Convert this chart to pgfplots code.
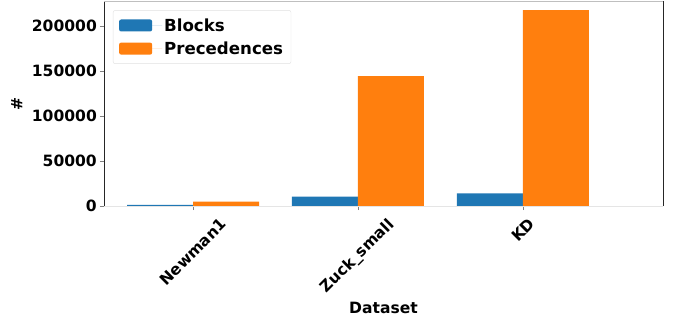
\documentclass[border=0pt]{standalone}
\usepackage{pgfplots}
\pgfplotsset{compat=1.18}
\usepackage{fontspec}
\setmainfont{DejaVu Sans}
\definecolor{mblue}{HTML}{1F77B4}
\definecolor{morange}{HTML}{FF7F0E}
\begin{document}
\begin{tikzpicture}[x=1bp,y=1bp]
\begin{axis}[
  scale only axis,
  width=559bp, height=205bp,
  ymin=0, ymax=228000,
  xmin=-0.54, xmax=2.85,
  xtick={0,1,2},
  xticklabels={\rotatebox{45}{Newman1},\rotatebox{45}{Zuck\_small},\rotatebox{45}{KD}},
  ytick={0,50000,100000,150000,200000},
  xtick pos=bottom, ytick pos=left,
  scaled y ticks=false,
  /pgf/number format/.cd, fixed, 1000 sep={}, assume math mode=true,
  /pgfplots/.cd,
  tick label style={font=\fontsize{15.6}{18}\selectfont\bfseries},
  x tick label style={anchor=north, inner sep=4bp, yshift=-3bp},
  y tick label style={inner sep=3bp},
  tick align=outside,
  tick style={gray, line width=0.6bp},
  major tick length=4bp,
  xlabel={Dataset}, ylabel={\#},
  label style={font=\fontsize{15.6}{18}\selectfont\bfseries},
  xlabel style={yshift=2bp},
  ylabel style={yshift=3bp},
  axis line style={draw=none},
  ybar, bar width=0.4,
  legend style={at={(0.016,0.955)}, anchor=north west, draw=black!12, rounded corners=2bp,
    font=\fontsize{16.7}{19}\selectfont\bfseries, row sep=5bp, inner xsep=6bp, inner ysep=6bp,
    legend cell align=left},
  legend image code/.code={\fill[#1] (0bp,-6bp) rectangle (33bp,6bp); \path (0bp,0bp) -- (43bp,0bp);},
]
\addplot[fill=mblue, draw=none, bar shift=-0.2] coordinates {(0,1200) (1,10300) (2,14100)};
\addplot[fill=morange, draw=none, bar shift=0.2] coordinates {(0,4800) (1,144400) (2,217800)};
\legend{Blocks, Precedences}
\end{axis}
\draw[black!85, line width=0.8bp] (current axis.south west) -- (current axis.north west);
\draw[black!85, line width=0.8bp] (current axis.south east) -- (current axis.north east);
\draw[black!10, line width=0.8bp] (current axis.south west) -- (current axis.south east);
\draw[black!25, line width=0.8bp] (current axis.north west) -- (current axis.north east);
\useasboundingbox ([shift={(-104bp,-114bp)}]current axis.south west) rectangle ([shift={(13bp,1bp)}]current axis.north east);
\end{tikzpicture}
\end{document}
